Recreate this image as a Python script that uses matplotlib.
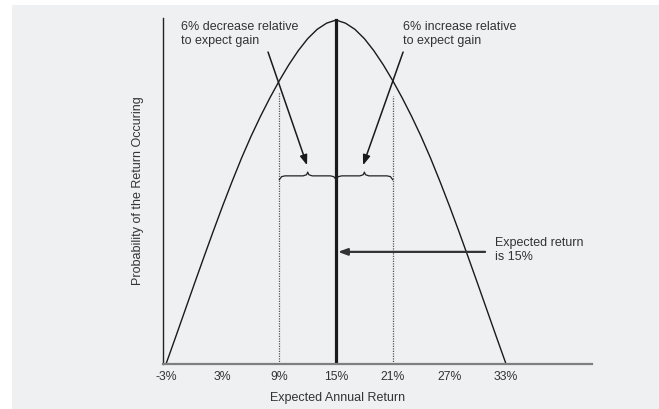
import matplotlib
matplotlib.use("Agg")
import matplotlib.pyplot as plt
from matplotlib.patches import Rectangle

plt.rcParams['font.family'] = ['Liberation Sans', 'DejaVu Sans']

# curve (return %, relative probability)
returns = [-3, -2, -1, 0, 1, 2, 3, 4, 5, 6, 7, 8, 9, 10, 11, 12, 13, 14, 15,
           16, 17, 18, 19, 20, 21, 22, 23, 24, 25, 26, 27, 28, 29, 30, 31, 32, 33]
prob = [0.0, 0.077, 0.155, 0.233, 0.310, 0.386, 0.460, 0.531, 0.599, 0.662,
        0.720, 0.774, 0.824, 0.870, 0.911, 0.946, 0.973, 0.991, 1.0,
        0.991, 0.973, 0.946, 0.911, 0.870, 0.824, 0.774, 0.720, 0.662, 0.599,
        0.531, 0.460, 0.386, 0.310, 0.233, 0.155, 0.077, 0.0]
tick_vals = [-3, 3, 9, 15, 21, 27, 33]
tick_labels = ['-3%', '3%', '9%', '15%', '21%', '27%', '33%']
expected = 15
low, high = 9, 21
dot_top = [0.79, 0.78]
brace_y = 0.547

txt = '#333333'
fig = plt.figure(figsize=(6.59, 4.09), dpi=100, facecolor='white')
fig.patches.append(Rectangle((12 / 659, 0), 1, 1 - 5 / 409, transform=fig.transFigure,
                             facecolor='#eff0f2', edgecolor='none', zorder=-10))
ax = fig.add_axes([163 / 659, 45 / 409, 429 / 659, 346 / 409])
ax.set_facecolor('none')

ax.plot(returns, prob, color='#1a1a1a', lw=1.0)
ax.plot([expected, expected], [0, max(prob)], color='#1a1a1a', lw=2.3)
ax.plot([low, low], [0, dot_top[0]], color='#555555', lw=0.9, ls=(0, (1, 1)))
ax.plot([high, high], [0, dot_top[1]], color='#555555', lw=0.9, ls=(0, (1, 1)))


def brace(x0, x1, y, h=0.011):
    # curly brace opening downwards between x0 and x1
    m = (x0 + x1) / 2
    w = (x1 - x0)
    xs = [x0, x0 + w * 0.04, x0 + w * 0.1, m - w * 0.08, m - w * 0.02, m,
          m + w * 0.02, m + w * 0.08, x1 - w * 0.1, x1 - w * 0.04, x1]
    ys = [y - h, y - h * 0.2, y, y, y + h * 0.3, y + h,
          y + h * 0.3, y, y, y - h * 0.2, y - h]
    ax.plot(xs, ys, color='#222222', lw=0.9)


brace(low, expected, brace_y)
brace(expected, high, brace_y)

arrow = dict(arrowstyle='-|>,head_length=0.6,head_width=0.22', color='#1a1a1a', lw=1.1,
             shrinkA=0, shrinkB=0)
ax.annotate('', xy=(11.93, 0.578), xytext=(7.8, 0.907), arrowprops=arrow)
ax.annotate('', xy=(17.86, 0.578), xytext=(22.1, 0.907), arrowprops=arrow)
arrow2 = dict(arrowstyle='-|>,head_length=0.55,head_width=0.2', color='#333333', lw=1.6,
              shrinkA=0, shrinkB=0)
ax.annotate('', xy=(15.2, 0.326), xytext=(30.78, 0.326), arrowprops=arrow2)

ax.text(-1.41, 0.998, '6% decrease relative\nto expect gain', fontsize=9, color=txt,
        va='top', ha='left')
ax.text(22.1, 0.998, '6% increase relative\nto expect gain', fontsize=9, color=txt,
        va='top', ha='left')
ax.text(31.84, 0.37, 'Expected return\nis 15%', fontsize=9, color=txt,
        va='top', ha='left')

ax.set_xlim(-3.32, 42.1)
ax.set_ylim(0, 1.006)
ax.set_xticks(tick_vals)
ax.set_xticklabels(tick_labels)
ax.set_yticks([])
ax.tick_params(axis='x', length=0, pad=5, labelsize=8.8, colors=txt)
for s in ['top', 'right']:
    ax.spines[s].set_visible(False)
ax.spines['left'].set_color('#222222')
ax.spines['left'].set_linewidth(1.0)
ax.spines['bottom'].set_color('#7f7f7f')
ax.spines['bottom'].set_linewidth(1.6)

ax.set_xlabel('Expected Annual Return', fontsize=9, color=txt)
ax.xaxis.set_label_coords(0.406, -0.081)
ax.set_ylabel('Probability of the Return Occuring', fontsize=9, color=txt)
ax.yaxis.set_label_coords(-0.045, 0.5)

fig.savefig('out.png', dpi=100, facecolor=fig.get_facecolor())
